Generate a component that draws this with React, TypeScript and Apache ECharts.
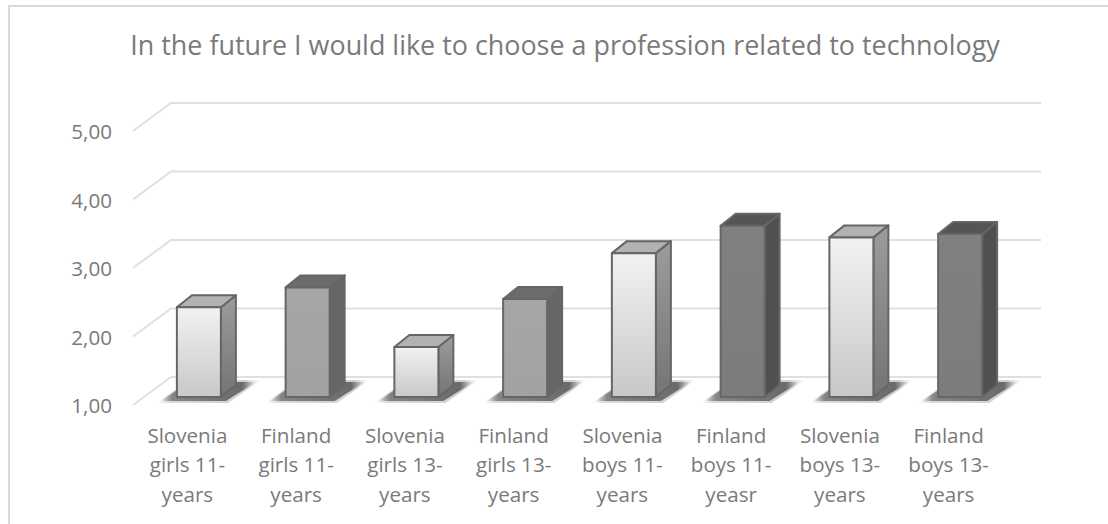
import React, { useEffect, useRef } from "react";
import * as echarts from "echarts";

const titleText = "In the future I would like to choose a profession related to technology";
const categories = [
  "Slovenia\ngirls 11-\nyears",
  "Finland\ngirls 11-\nyears",
  "Slovenia\ngirls 13-\nyears",
  "Finland\ngirls 13-\nyears",
  "Slovenia\nboys 11-\nyears",
  "Finland\nboys 11-\nyeasr",
  "Slovenia\nboys 13-\nyears",
  "Finland\nboys 13-\nyears",
];
const values = [2.31, 2.6, 1.73, 2.43, 3.1, 3.5, 3.33, 3.38];
const tones = [0, 1, 0, 1, 0, 2, 0, 2];
const yTicks = [1, 2, 3, 4, 5];

const FONT = "'Open Sans', 'Noto Sans', sans-serif";
const TEXT = "#7a7a7a";
const GRID_LINE = "#e0e0e0";
const EDGE = "#666666";
// Depth of the floor/walls and of the bars, in pixels.
const WALL_DX = 38;
const WALL_DY = -28;
const BAR_INSET_X = 11.5;
const BAR_INSET_Y = -8;
const BAR_W = 44;
const BAR_DX = 15;
const BAR_DY = -12;

const v = (a: string, b: string) => ({
  type: "linear", x: 0, y: 0, x2: 0, y2: 1,
  colorStops: [{ offset: 0, color: a }, { offset: 1, color: b }],
});

const palettes = [
  { front: v("#f2f2f2", "#c8c8c8"), side: v("#9c9c9c", "#747474"), top: "#b2b2b2" },
  { front: v("#a6a6a6", "#a2a2a2"), side: "#666666", top: "#6c6c6c" },
  { front: v("#808080", "#7c7c7c"), side: "#505050", top: "#555555" },
];

const renderWall = (params: any, api: any) => {
  const val = api.value(0);
  const [x0, y] = api.coord([0, val]);
  const band = api.size([1, 0])[0];
  const left = x0 - band / 2;
  const right = left + band * categories.length;
  return {
    type: "polyline",
    silent: true,
    shape: {
      points: [
        [left, y],
        [left + WALL_DX, y + WALL_DY],
        [right + WALL_DX, y + WALL_DY],
      ],
    },
    style: { stroke: GRID_LINE, lineWidth: 2, fill: "none" },
  };
};

const shadowFill = (alpha: number) => ({
  type: "linear", x: 0, y: 0, x2: 1, y2: 0,
  colorStops: [
    { offset: 0, color: `rgba(100,100,100,0)` },
    { offset: 0.12, color: `rgba(100,100,100,${alpha * 0.8})` },
    { offset: 0.86, color: `rgba(95,95,95,${alpha})` },
    { offset: 1, color: `rgba(130,130,130,0)` },
  ],
});

const renderShadow = (params: any, api: any) => {
  const [cx] = api.coord([api.value(0), 1]);
  const [, yBase] = api.coord([0, 1]);
  const l = cx + BAR_INSET_X - BAR_W / 2;
  const r = l + BAR_W;
  const b = yBase + BAR_INSET_Y;
  return {
    type: "group",
    silent: true,
    children: [
      {
        type: "polygon",
        shape: { points: [[l - 20, b + 6], [r + 7, b + 6], [r + 40, b - 17], [l + 12, b - 17]] },
        style: { fill: shadowFill(0.3) },
      },
      {
        type: "polygon",
        shape: { points: [[l - 16, b + 4], [r + 5, b + 4], [r + 35, b - 15], [l + 12, b - 15]] },
        style: { fill: shadowFill(0.9) },
      },
    ],
  };
};

const renderBar = (params: any, api: any) => {
  const idx = api.value(0);
  const [cx, yTop] = api.coord([idx, api.value(1)]);
  const [, yBase] = api.coord([idx, 1]);
  const l = cx + BAR_INSET_X - BAR_W / 2;
  const r = l + BAR_W;
  const t = yTop + BAR_INSET_Y;
  const b = yBase + BAR_INSET_Y;
  const pal = palettes[tones[idx]];
  const stroke = { stroke: EDGE, lineWidth: 2, lineJoin: "round" };
  return {
    type: "group",
    silent: true,
    children: [
      {
        type: "polygon",
        shape: { points: [[r, t], [r + BAR_DX, t + BAR_DY], [r + BAR_DX, b + BAR_DY], [r, b]] },
        style: { fill: pal.side, ...stroke },
      },
      {
        type: "polygon",
        shape: { points: [[l, t], [l + BAR_DX, t + BAR_DY], [r + BAR_DX, t + BAR_DY], [r, t]] },
        style: { fill: pal.top, ...stroke },
      },
      {
        type: "polygon",
        shape: { points: [[l, t], [r, t], [r, b], [l, b]] },
        style: { fill: pal.front, ...stroke },
      },
    ],
  };
};

export default function App() {
  const ref = useRef<HTMLDivElement>(null);
  useEffect(() => {
    const chart = echarts.init(ref.current!, undefined, { renderer: "svg" });
    chart.setOption({
      animation: false,
      backgroundColor: "#ffffff",
      title: {
        text: titleText,
        left: 560,
        top: 26,
        textAlign: "center",
        textStyle: { color: TEXT, fontSize: 26.9, fontWeight: "normal", fontFamily: FONT },
      },
      grid: { left: 133, width: 870, top: 131, height: 274 },
      xAxis: {
        type: "category",
        data: categories,
        axisLine: { show: false },
        axisTick: { show: false },
        axisLabel: {
          color: TEXT, fontSize: 20.6, fontFamily: FONT, lineHeight: 29.5, margin: 15, interval: 0,
        },
      },
      yAxis: {
        type: "value",
        min: 1,
        max: 5,
        interval: 1,
        axisLine: { show: false },
        axisTick: { show: false },
        splitLine: { show: false },
        axisLabel: {
          color: TEXT, fontSize: 20.6, fontFamily: FONT, margin: 21,
          formatter: (n: number) => n.toFixed(2).replace(".", ","),
        },
      },
      graphic: [
        {
          type: "polyline",
          silent: true,
          shape: { points: [[9, 530], [9, 6], [1115, 6]] },
          style: { stroke: "#d9d9d9", lineWidth: 2, fill: "none" },
        },
      ],
      series: [
        {
          type: "custom", name: "walls", renderItem: renderWall, clip: false,
          data: yTicks.map((t) => [t]), encode: { y: 0 }, z: 1,
        },
        {
          type: "custom", name: "shadows", renderItem: renderShadow, clip: false,
          data: values.map((val, i) => [i, val]), encode: { x: 0, y: 1 }, z: 2,
        },
        {
          type: "custom", name: "bars", renderItem: renderBar, clip: false,
          data: values.map((val, i) => [i, val]), encode: { x: 0, y: 1 }, z: 3,
        },
      ],
    });
    return () => chart.dispose();
  }, []);
  return (
    <div
      ref={ref}
      style={{ position: "absolute", left: 0, top: 0, width: 1108, height: 524 }}
    />
  );
}
